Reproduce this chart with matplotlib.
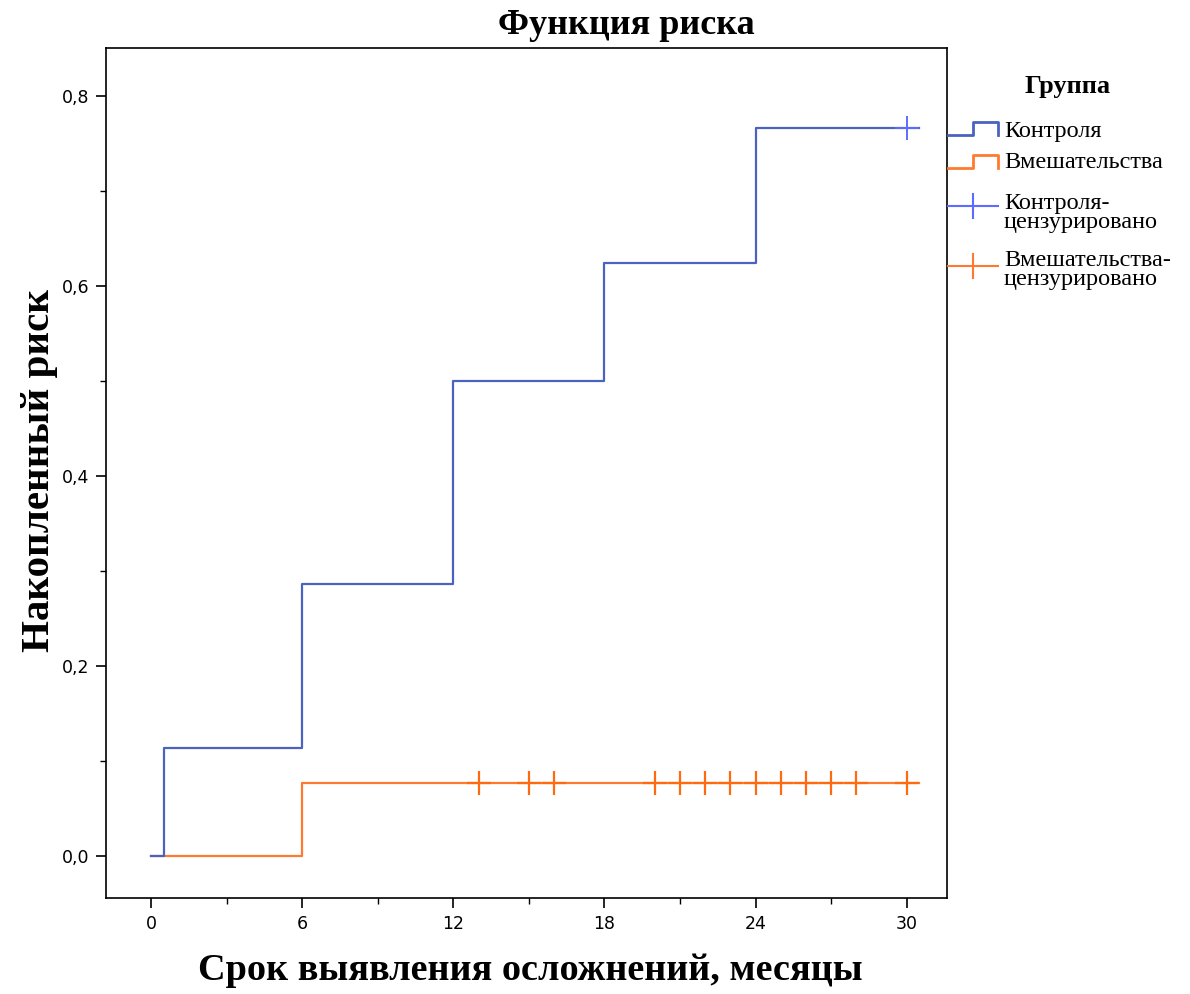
import matplotlib
matplotlib.use("Agg")
import matplotlib.pyplot as plt
from matplotlib.lines import Line2D
from matplotlib.ticker import MultipleLocator, FuncFormatter

# Data
control_t = [0, 0.5, 6, 12, 18, 24, 30.5]
control_risk = [0.0, 0.114, 0.287, 0.5, 0.625, 0.767, 0.767]
interv_t = [0, 6, 30.5]
interv_risk = [0.0, 0.077, 0.077]
control_cens_t = [30]
control_cens_risk = [0.767]
interv_cens_t = [13, 15, 16, 20, 21, 22, 23, 24, 25, 26, 27, 28, 30]
interv_cens_risk = [0.077] * len(interv_cens_t)

title = "Функция риска"
xlabel = "Срок выявления осложнений, месяцы"
ylabel = "Накопленный риск"
legend_title = "Группа"
legend_labels = ["Контроля", "Вмешательства", "Контроля-\nцензурировано", "Вмешательства-\nцензурировано"]

c_blue = "#4a62c0"
c_blue_cens = "#5c6cff"
c_orange = "#ff7a2e"
c_orange_cens = "#ff6a10"

W, H = 1190, 994
fig = plt.figure(figsize=(W / 100, H / 100), dpi=100)
ax = fig.add_axes([106 / W, 1 - 898 / H, (947 - 106) / W, (898 - 48) / H])

ax.step(control_t, control_risk, where="post", color=c_blue, lw=1.6, zorder=3)
ax.step(interv_t, interv_risk, where="post", color=c_orange, lw=1.6, zorder=2)
ax.plot(control_cens_t, control_cens_risk, ls="none", marker="+", ms=17, mew=1.4, color=c_blue_cens, zorder=4)
ax.plot(interv_cens_t, interv_cens_risk, ls="none", marker="+", ms=17, mew=1.6, color=c_orange_cens, zorder=4)

ax.set_xlim(-1.79, 31.6)
ax.set_ylim(-0.044, 0.851)
ax.xaxis.set_major_locator(MultipleLocator(6))
ax.xaxis.set_minor_locator(MultipleLocator(3))
ax.yaxis.set_major_locator(MultipleLocator(0.2))
ax.yaxis.set_minor_locator(MultipleLocator(0.1))
ax.yaxis.set_major_formatter(FuncFormatter(lambda v, p: f"{v:.1f}".replace(".", ",")))
ax.tick_params(which="major", direction="out", length=7, width=1.2, labelsize=12.5, pad=5)
ax.tick_params(which="minor", direction="out", length=4, width=1.0)
for lab in ax.get_xticklabels() + ax.get_yticklabels():
    lab.set_family("DejaVu Sans")
for s in ax.spines.values():
    s.set_linewidth(1.2)

fig.text(626 / W, 1 - 26 / H, title, ha="center", va="center",
         family="Liberation Serif", fontweight="bold", fontsize=26)
fig.text(530 / W, 1 - 970 / H, xlabel, ha="center", va="center",
         family="Liberation Serif", fontweight="bold", fontsize=27.5)
fig.text(40 / W, 1 - 470 / H, ylabel, ha="center", va="center", rotation=90,
         family="Liberation Serif", fontweight="bold", fontsize=29.5)

# Legend (drawn manually)
def fx(px):
    return px / W

def fy(py):
    return 1 - py / H

fig.text(fx(1068), fy(87), legend_title, ha="center", va="center",
         family="Liberation Serif", fontweight="bold", fontsize=19)

def step_handle(ylow, yhigh, color):
    xs = [948, 973, 973, 998, 998]
    ys = [ylow, ylow, yhigh, yhigh, ylow]
    fig.add_artist(Line2D([fx(x) for x in xs], [fy(y) for y in ys], color=color, lw=2.0))

def cens_handle(yc, color):
    fig.add_artist(Line2D([fx(948), fx(998)], [fy(yc), fy(yc)], color=color, lw=1.5))
    fig.add_artist(Line2D([fx(973), fx(973)], [fy(yc - 12), fy(yc + 12)], color=color, lw=1.5))

step_handle(135, 122, c_blue)
step_handle(168, 155, c_orange)
cens_handle(206, c_blue_cens)
cens_handle(266, c_orange)

text_y = [131, 162, 213, 270]
for lab, ty in zip(legend_labels, text_y):
    fig.text(fx(1004), fy(ty), lab, ha="left", va="center", family="Liberation Serif",
             fontsize=17.5, linespacing=0.9)

fig.savefig("out.png", dpi=100)
